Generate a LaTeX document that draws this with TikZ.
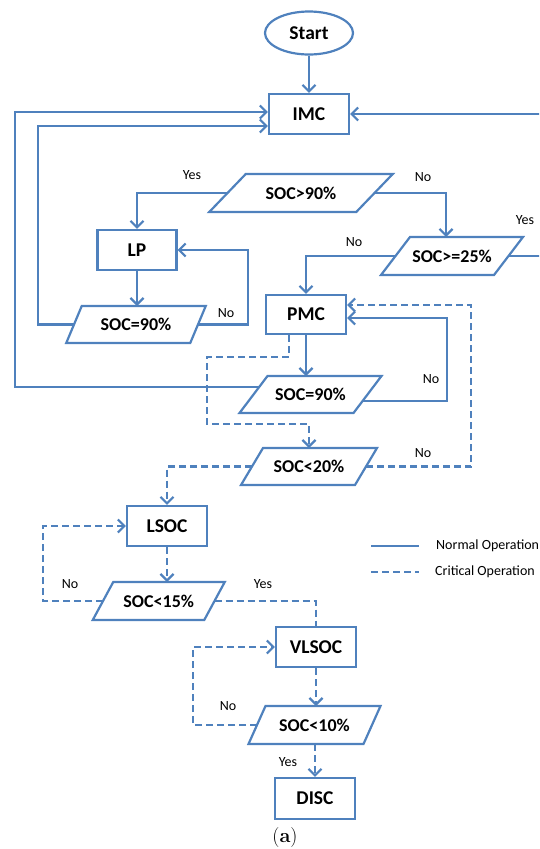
\documentclass[tikz,border=0pt]{standalone}
\usepackage{fontspec}
\newfontfamily\calib{Carlito}
\usetikzlibrary{arrows.meta,calc,shapes.geometric}
\definecolor{lblue}{RGB}{79,129,189}
\newcommand{\parabox}[7]{%
  \node[pbox, minimum width=#4pt, minimum height=#5pt] (#1) at (#2,#3) {#7};
  \draw[line, line join=miter] ($(#1.north west)+(#6/2,0)$) -- ($(#1.north east)+(#6/2,0)$) -- ($(#1.south east)+(-#6/2,0)$) -- ($(#1.south west)+(-#6/2,0)$) -- cycle;
}
\begin{document}
\begin{tikzpicture}[x=1pt,y=-1pt,
  line/.style={draw=lblue, line width=2.2pt},
  arr/.style={line, -{Straight Barb[length=6.5pt,width=13pt]}},
  crit/.style={dash pattern=on 7pt off 4pt},
  box/.style={draw=lblue, line width=2.2pt, rectangle, minimum width=80pt, minimum height=40pt, inner sep=0pt, font=\calib\bfseries\fontsize{19.5}{20}\selectfont},
  pbox/.style={rectangle, inner sep=0pt, outer sep=0pt, font=\calib\bfseries\fontsize{18}{18}\selectfont},
  lab/.style={font=\calib\fontsize{14}{15}\selectfont, inner sep=0pt},
]
\useasboundingbox (0,0) rectangle (539,849);
\clip (0,0) rectangle (539,849);

% nodes
\node[draw=lblue, line width=2.2pt, ellipse, minimum width=88pt, minimum height=43pt, inner sep=0pt, font=\calib\bfseries\fontsize{19.5}{20}\selectfont] (start) at (309,33) {Start};
\node[box] (imc) at (309,114) {IMC};
\parabox{p1}{301}{193}{147}{38}{36.5}{SOC>90\%}
\node[box, minimum width=79pt] (lp) at (137,250) {LP};
\parabox{p2}{452}{256}{113}{38}{29}{SOC>=25\%}
\parabox{p3}{136}{324.5}{124}{37}{15.5}{SOC=90\%}
\node[box, minimum height=39pt] (pmc) at (306,314.5) {PMC};
\parabox{p4}{310.5}{394.5}{114}{37}{28}{SOC=90\%}
\parabox{p5}{309}{466.5}{114}{37}{22}{SOC<20\%}
\node[box] (lsoc) at (167,526) {LSOC};
\parabox{p6}{158.75}{601}{111.5}{38}{20.5}{SOC<15\%}
\node[box] (vlsoc) at (316,647) {VLSOC};
\parabox{p7}{314.5}{725}{115}{38}{17}{SOC<10\%}
\node[box, minimum height=41pt] (disc) at (315,798.5) {DISC};

% normal connectors
\draw[arr] (start) -- (imc);
\draw[arr] (p1.west) -| (lp.north);
\draw[arr] (p1.east) -| ($(p2.north)+(-6,0)$);
\draw[arr] (lp.south) -- (lp.south |- p3.north);
\coordinate (c1) at (38,126);
\draw[arr] (p3.west) -| (c1) -- (c1 -| imc.west);
\draw[arr] (p3.east) -- ++(50,0) |- (lp.east);
\draw[arr] (p2.west) -| (pmc.north);
\draw[arr] (p2.east) -- ++(60,0) |- (imc.east);
\draw[arr] (pmc.south) -- (pmc.south |- p4.north);
\coordinate (c2) at (15,112);
\draw[arr] ($(p4.west)+(5.7,-7.5)$) -| (c2) -- (c2 -| imc.west);
\coordinate (c3) at (447,318);
\draw[arr] ($(p4.east)+(-4.9,6.5)$) -| (c3) -- (c3 -| pmc.east);

% critical connectors
\coordinate (d1) at (289,357);
\coordinate (d2) at (207,424);
\draw[arr,crit] (pmc.south -| d1) -- (d1) -| (d2) -| (p5.north);
\draw[arr,crit] (p5.west) -| (lsoc.north);
\coordinate (c4) at (471,305);
\draw[arr,crit] (p5.east) -| (c4) -- (c4 -| pmc.east);
\draw[arr,crit] (lsoc.south) -- (lsoc.south |- p6.north);
\coordinate (c5) at (43,601);
\draw[arr,crit] (p6.west) -- (c5) |- (lsoc.west);
\draw[line,crit] (p6.east) -| (vlsoc.north);
\draw[arr,crit] (vlsoc.south) -- (vlsoc.south |- p7.north);
\draw[arr,crit] (p7.west) -- ++(-64,0) |- (vlsoc.west);
\draw[arr,crit] (disc.north |- p7.south) -- (disc.north);

% labels
\node[lab] (yes1) at (192,175) {Yes};
\node[lab] (no1) at (423,177) {No};
\node[lab] (no2) at (226,313) {No};
\node[lab] (no3) at (354,242) {No};
\node[lab] (yes2) at (525,220) {Yes};
\node[lab] (no4) at (431,379) {No};
\node[lab] (no5) at (423,453) {No};
\node[lab] (no6) at (70,584) {No};
\node[lab] (yes3) at (263,584) {Yes};
\node[lab] (no7) at (228,706) {No};
\node[lab] (yes4) at (288,762) {Yes};

% legend
\coordinate (l1a) at (371,546);
\coordinate (l1b) at (419,546);
\draw[line] (l1a) -- (l1b);
\node[lab, anchor=west] (leg1) at (436,546) {Normal Operation};
\coordinate (l2a) at (371,572);
\coordinate (l2b) at (419,572);
\draw[line,crit] (l2a) -- (l2b);
\node[lab, anchor=west] (leg2) at (435,572) {Critical Operation};

% caption
\node[font=\fontsize{20}{22}\selectfont, inner sep=0pt] (cap) at (285,837) {(\textbf{a})};
\end{tikzpicture}
\end{document}
